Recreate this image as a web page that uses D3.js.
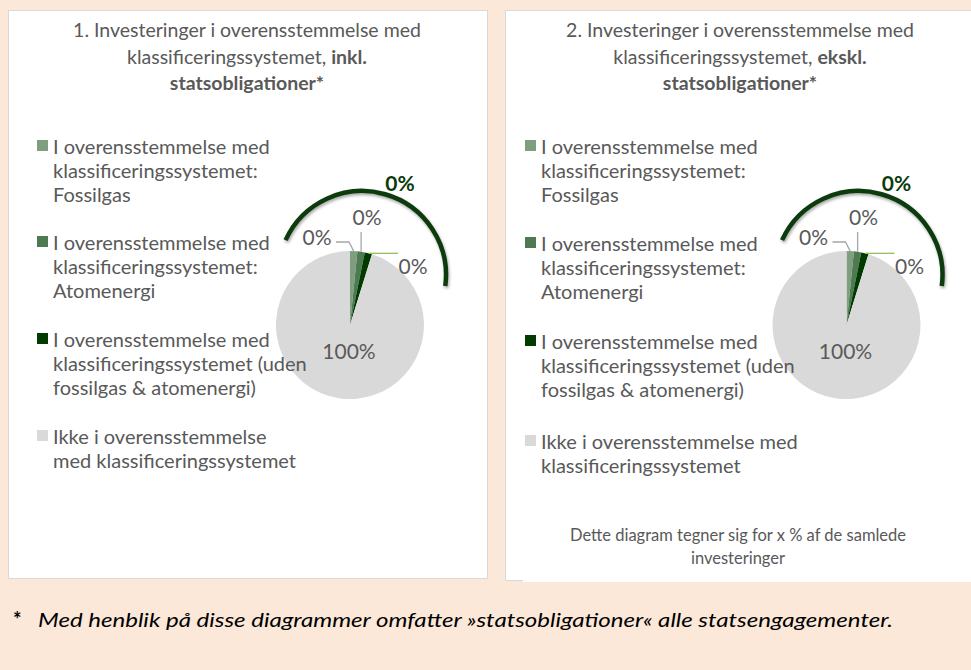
<!DOCTYPE html>
<html>
<head>
<meta charset="utf-8">
<script src="https://cdn.jsdelivr.net/npm/d3@7"></script>
<style>
  body { margin: 0; background: #fbe8d8; }
  svg text { font-family: Lato, "Open Sans", sans-serif; }
</style>
</head>
<body>
<script>
'use strict';

var width = 971,
    height = 670;

// categories (legend lines per panel, wrapped as in the picture)
var categories = [
  "I overensstemmelse med klassificeringssystemet: Fossilgas",
  "I overensstemmelse med klassificeringssystemet: Atomenergi",
  "I overensstemmelse med klassificeringssystemet (uden fossilgas & atomenergi)",
  "Ikke i overensstemmelse med klassificeringssystemet"
];
var legendLines1 = [
  ["I overensstemmelse med", "klassificeringssystemet:", "Fossilgas"],
  ["I overensstemmelse med", "klassificeringssystemet:", "Atomenergi"],
  ["I overensstemmelse med", "klassificeringssystemet (uden", "fossilgas & atomenergi)"],
  ["Ikke i overensstemmelse", "med klassificeringssystemet"]
];
var legendLines2 = [
  ["I overensstemmelse med", "klassificeringssystemet:", "Fossilgas"],
  ["I overensstemmelse med", "klassificeringssystemet:", "Atomenergi"],
  ["I overensstemmelse med", "klassificeringssystemet (uden", "fossilgas & atomenergi)"],
  ["Ikke i overensstemmelse med", "klassificeringssystemet"]
];
var colors = ["#7f9e80", "#4d7a50", "#023b02", "#d9d9d9"];

// slice sizes (as drawn) and the printed data labels
var shares1 = [1.6, 1.6, 1.6, 95.2];
var shares2 = [1.6, 1.6, 1.6, 95.2];
var labels1 = ["0%", "0%", "0%", "100%"];
var labels2 = ["0%", "0%", "0%", "100%"];
var aligned1 = "0%";   // total aligned, over the arc
var aligned2 = "0%";

var titles = [
  [[{t: "1. Investeringer i overensstemmelse med"}],
   [{t: "klassificeringssystemet, "}, {t: "inkl.", b: true}],
   [{t: "statsobligationer*", b: true}]],
  [[{t: "2. Investeringer i overensstemmelse med"}],
   [{t: "klassificeringssystemet, "}, {t: "ekskl.", b: true}],
   [{t: "statsobligationer*", b: true}]]
];
var note2 = ["Dette diagram tegner sig for x % af de samlede", "investeringer"];
var footnote = "Med henblik på disse diagrammer omfatter »statsobligationer« alle statsengagementer.";

var svg = d3.select("body").append("svg")
  .attr("width", width)
  .attr("height", height);

svg.append("rect").attr("width", width).attr("height", height).attr("fill", "#fbe8d8");

var defs = svg.append("defs");
defs.append("filter").attr("id", "shadow")
  .attr("x", "-20%").attr("y", "-20%").attr("width", "140%").attr("height", "140%")
  .append("feDropShadow")
  .attr("dx", 1).attr("dy", 2).attr("stdDeviation", 1.8)
  .attr("flood-color", "#000").attr("flood-opacity", 0.35);

// panel boxes
svg.append("rect").attr("x", 8.5).attr("y", 10.5).attr("width", 479).attr("height", 568)
  .attr("fill", "#fff").attr("stroke", "#d9d9d9");
svg.append("rect").attr("x", 505.5).attr("y", 10.5).attr("width", 480).attr("height", 570)
  .attr("fill", "#fff").attr("stroke", "#d9d9d9");
svg.append("rect").attr("x", 523).attr("y", 578).attr("width", 460).attr("height", 4).attr("fill", "#fff");

var panels = [
  {cx: 247, legX: 37, legY: [147, 243, 340, 437], lines: legendLines1, shares: shares1,
   labels: labels1, aligned: aligned1, pie: [350, 325], title: titles[0]},
  {cx: 740, legX: 525, legY: [147, 244, 342, 442], lines: legendLines2, shares: shares2,
   labels: labels2, aligned: aligned2, pie: [846.5, 325], title: titles[1]}
];

var radius = 74;
var pie = d3.pie().sort(null).value(function(d) { return d; });
var arc = d3.arc().innerRadius(0).outerRadius(radius);
var rim = d3.arc().innerRadius(radius).outerRadius(radius);

// label offsets and leader elbows, relative to pie centre
var labelPos = [[-33, -87], [17, -107], [63, -58], [-1, 27]];
var elbows = [[[-14, -83], [-1, -83]], [], [[48, null]], null];
var leaderColors = ["#a6a6a6", "#a6a6a6", "#92c35a"];

panels.forEach(function(p) {
  // title
  var title = svg.append("text")
    .attr("text-anchor", "middle")
    .attr("fill", "#595959")
    .style("font-size", "19.5px");
  p.title.forEach(function(line, i) {
    var first = true;
    line.forEach(function(seg) {
      var ts = title.append("tspan").text(seg.t);
      if (seg.b) ts.attr("font-weight", "bold");
      if (first) ts.attr("x", p.cx).attr("y", 37 + i * 26.5);
      first = false;
    });
  });

  // pie
  var g = svg.append("g").attr("transform", "translate(" + p.pie[0] + "," + p.pie[1] + ")");
  var arcs = pie(p.shares);
  g.selectAll("path.slice")
    .data(arcs)
    .enter().append("path")
    .attr("class", "slice")
    .attr("d", arc)
    .attr("fill", function(d, i) { return colors[i]; });

  // leader lines from slice rim to label
  arcs.forEach(function(d, i) {
    if (!elbows[i]) return;
    var c = rim.centroid(d);
    var pts;
    if (i === 0) pts = [elbows[0][0], elbows[0][1], c];
    else if (i === 1) pts = [[c[0], labelPos[1][1] + 14], c];
    else pts = [c, [elbows[2][0][0], c[1]]];
    g.append("path")
      .attr("d", d3.line()(pts))
      .attr("fill", "none")
      .attr("stroke", leaderColors[i])
      .attr("stroke-width", 1.3);
  });

  g.selectAll("text.lbl")
    .data(arcs)
    .enter().append("text")
    .attr("class", "lbl")
    .attr("x", function(d, i) { return labelPos[i][0]; })
    .attr("y", function(d, i) { return labelPos[i][1]; })
    .attr("dy", "0.35em")
    .attr("text-anchor", "middle")
    .attr("fill", "#595959")
    .style("font-size", "21px")
    .text(function(d, i) { return p.labels[i]; });

  // bracket arc over the aligned slices
  var bp = d3.path();
  bp.arc(12, -50, 84, (-65.5 - 90) * Math.PI / 180, (97.5 - 90) * Math.PI / 180);
  g.append("path")
    .attr("d", bp.toString())
    .attr("fill", "none")
    .attr("stroke", "#0b3b0b")
    .attr("stroke-width", 4.5)
    .attr("filter", "url(#shadow)");

  g.append("text")
    .attr("x", 50).attr("y", -141).attr("dy", "0.35em")
    .attr("text-anchor", "middle")
    .attr("fill", "#0b3b0b")
    .attr("font-weight", "bold")
    .style("font-size", "21px")
    .text(p.aligned);

  // legend (drawn over the pie, as in the original)
  var leg = svg.append("g");
  p.lines.forEach(function(lines, i) {
    leg.append("rect")
      .attr("x", p.legX).attr("y", p.legY[i] - 7)
      .attr("width", 11).attr("height", 11)
      .attr("fill", colors[i]);
    var t = leg.append("text").attr("fill", "#595959").style("font-size", "20px");
    lines.forEach(function(l, j) {
      t.append("tspan").attr("x", p.legX + 16).attr("y", p.legY[i] + j * 24).attr("dy", "0.35em").text(l);
    });
  });
});

// note in panel 2
var nt = svg.append("text").attr("text-anchor", "middle").attr("fill", "#595959").style("font-size", "16.5px");
note2.forEach(function(l, i) {
  nt.append("tspan").attr("x", 738).attr("y", 535 + i * 23).attr("dy", "0.35em").text(l);
});

// footnote
svg.append("text").attr("x", 13).attr("y", 627).attr("fill", "#000")
  .style("font-size", "20px").attr("font-weight", "bold").text("*");
svg.append("text").attr("x", 38).attr("y", 627).attr("fill", "#000")
  .style("font-size", "20px").style("font-style", "italic")
  .attr("textLength", 855).attr("lengthAdjust", "spacingAndGlyphs")
  .text(footnote);
</script>
</body>
</html>
